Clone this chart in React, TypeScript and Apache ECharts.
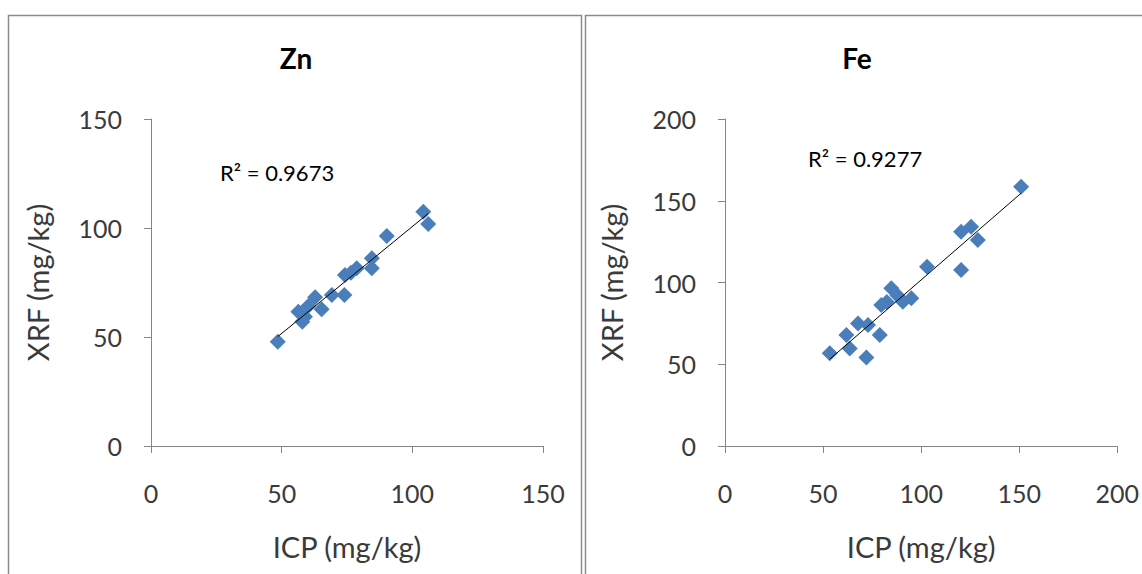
import React, { useEffect, useRef } from "react";
import * as echarts from "echarts";

const znICP = [48.5, 56.4, 57.9, 58.9, 60.2, 62.8, 65.3, 69.2, 74.0, 74.2, 76.5, 78.7, 84.5, 84.5, 90.2, 104.2, 106.1];
const znXRF = [47.8, 61.6, 57.0, 59.3, 64.2, 68.2, 62.7, 69.3, 69.3, 78.4, 79.5, 81.5, 86.1, 81.5, 96.3, 107.5, 101.8];

const feICP = [53.4, 61.9, 63.6, 67.8, 72.1, 72.9, 78.9, 79.7, 82.5, 84.8, 88.0, 90.7, 95.0, 103.0, 120.4, 120.4, 125.5, 128.9, 151.0];
const feXRF = [56.7, 67.9, 59.7, 75.0, 54.2, 74.0, 67.9, 86.2, 88.0, 96.5, 92.0, 88.3, 90.3, 109.7, 107.6, 131.1, 134.1, 126.0, 158.6];

const titles = ["Zn", "Fe"];
const r2Labels = ["R\u00b2 = 0.9673", "R\u00b2 = 0.9277"];
const axisMax = [150, 200];
const axisStep = 50;
const xName = "ICP (mg/kg)";
const yName = "XRF (mg/kg)";

function trend(xs: number[], ys: number[]): number[][] {
  const n = xs.length;
  const mx = xs.reduce((a, b) => a + b, 0) / n;
  const my = ys.reduce((a, b) => a + b, 0) / n;
  let sxy = 0;
  let sxx = 0;
  for (let i = 0; i < n; i++) {
    sxy += (xs[i] - mx) * (ys[i] - my);
    sxx += (xs[i] - mx) * (xs[i] - mx);
  }
  const b = sxy / sxx;
  const a = my - b * mx;
  const x0 = Math.min(...xs);
  const x1 = Math.max(...xs);
  return [
    [x0, a + b * x0],
    [x1, a + b * x1],
  ];
}

const FONT = "Lato";
const AXIS_COLOR = "#868686";
const LABEL_COLOR = "#3a3a3a";
const POINT_COLOR = "#4a7ebb";

export default function App() {
  const ref = useRef<HTMLDivElement>(null);
  useEffect(() => {
    if (!ref.current) return;
    const chart = echarts.init(ref.current, null, { renderer: "svg" });
    const grids = [
      { left: 151, top: 119, width: 392, height: 327 },
      { left: 725, top: 119, width: 393, height: 327 },
    ];
    const mkX = (i: number) => ({
      type: "value",
      gridIndex: i,
      min: 0,
      max: axisMax[i],
      interval: axisStep,
      name: xName,
      nameLocation: "middle",
      nameGap: 86,
      nameTextStyle: { fontFamily: FONT, fontSize: 29, color: LABEL_COLOR },
      splitLine: { show: false },
      axisLine: { show: true, lineStyle: { color: AXIS_COLOR, width: 1 } },
      axisTick: { show: true, length: 7, lineStyle: { color: AXIS_COLOR } },
      axisLabel: { fontFamily: FONT, fontSize: 25, color: LABEL_COLOR, margin: 34 },
    });
    const mkY = (i: number) => ({
      type: "value",
      gridIndex: i,
      min: 0,
      max: axisMax[i],
      interval: axisStep,
      name: yName,
      nameLocation: "middle",
      nameGap: 99,
      nameTextStyle: { fontFamily: FONT, fontSize: 29, color: LABEL_COLOR },
      splitLine: { show: false },
      axisLine: { show: true, lineStyle: { color: AXIS_COLOR, width: 1 } },
      axisTick: { show: true, length: 7, lineStyle: { color: AXIS_COLOR } },
      axisLabel: { fontFamily: FONT, fontSize: 25, color: LABEL_COLOR, margin: 29 },
    });
    const pts = (xs: number[], ys: number[]) => xs.map((x, i) => [x, ys[i]]);
    const textEl = (text: string, x: number, y: number, size: number, bold: boolean, align: string) => ({
      type: "text",
      x,
      y,
      style: {
        text,
        fontFamily: FONT,
        fontSize: size,
        fontWeight: bold ? "bold" : "normal",
        fill: "#000000",
        textAlign: align,
        textVerticalAlign: "middle",
      },
    });
    const option = {
      animation: false,
      backgroundColor: "#ffffff",
      grid: grids,
      xAxis: [mkX(0), mkX(1)],
      yAxis: [mkY(0), mkY(1)],
      series: [
        {
          type: "line",
          xAxisIndex: 0,
          yAxisIndex: 0,
          data: trend(znICP, znXRF),
          symbol: "none",
          lineStyle: { color: "#000000", width: 1 },
          z: 3,
        },
        {
          type: "scatter",
          xAxisIndex: 0,
          yAxisIndex: 0,
          data: pts(znICP, znXRF),
          symbol: "diamond",
          symbolSize: 16,
          itemStyle: { color: POINT_COLOR, opacity: 1 },
          z: 2,
        },
        {
          type: "line",
          xAxisIndex: 1,
          yAxisIndex: 1,
          data: trend(feICP, feXRF),
          symbol: "none",
          lineStyle: { color: "#000000", width: 1 },
          z: 3,
        },
        {
          type: "scatter",
          xAxisIndex: 1,
          yAxisIndex: 1,
          data: pts(feICP, feXRF),
          symbol: "diamond",
          symbolSize: 16,
          itemStyle: { color: POINT_COLOR, opacity: 1 },
          z: 2,
        },
      ],
      graphic: [
        {
          type: "rect",
          shape: { x: 8.5, y: 15.5, width: 573, height: 620 },
          style: { fill: "none", stroke: "#8c8c8c", lineWidth: 1.5 },
          silent: true,
        },
        {
          type: "rect",
          shape: { x: 585.5, y: 15.5, width: 620, height: 620 },
          style: { fill: "none", stroke: "#8c8c8c", lineWidth: 1.5 },
          silent: true,
        },
        textEl(titles[0], 296, 58, 28, true, "center"),
        textEl(titles[1], 857, 58, 28, true, "center"),
        textEl(r2Labels[0], 220, 172, 22, false, "left"),
        textEl(r2Labels[1], 808, 158, 22, false, "left"),
      ],
    };
    chart.setOption(option as any);
    return () => chart.dispose();
  }, []);
  return (
    <div
      ref={ref}
      style={{ position: "absolute", left: 0, top: 0, width: 1142, height: 574, background: "#fff" }}
    />
  );
}
